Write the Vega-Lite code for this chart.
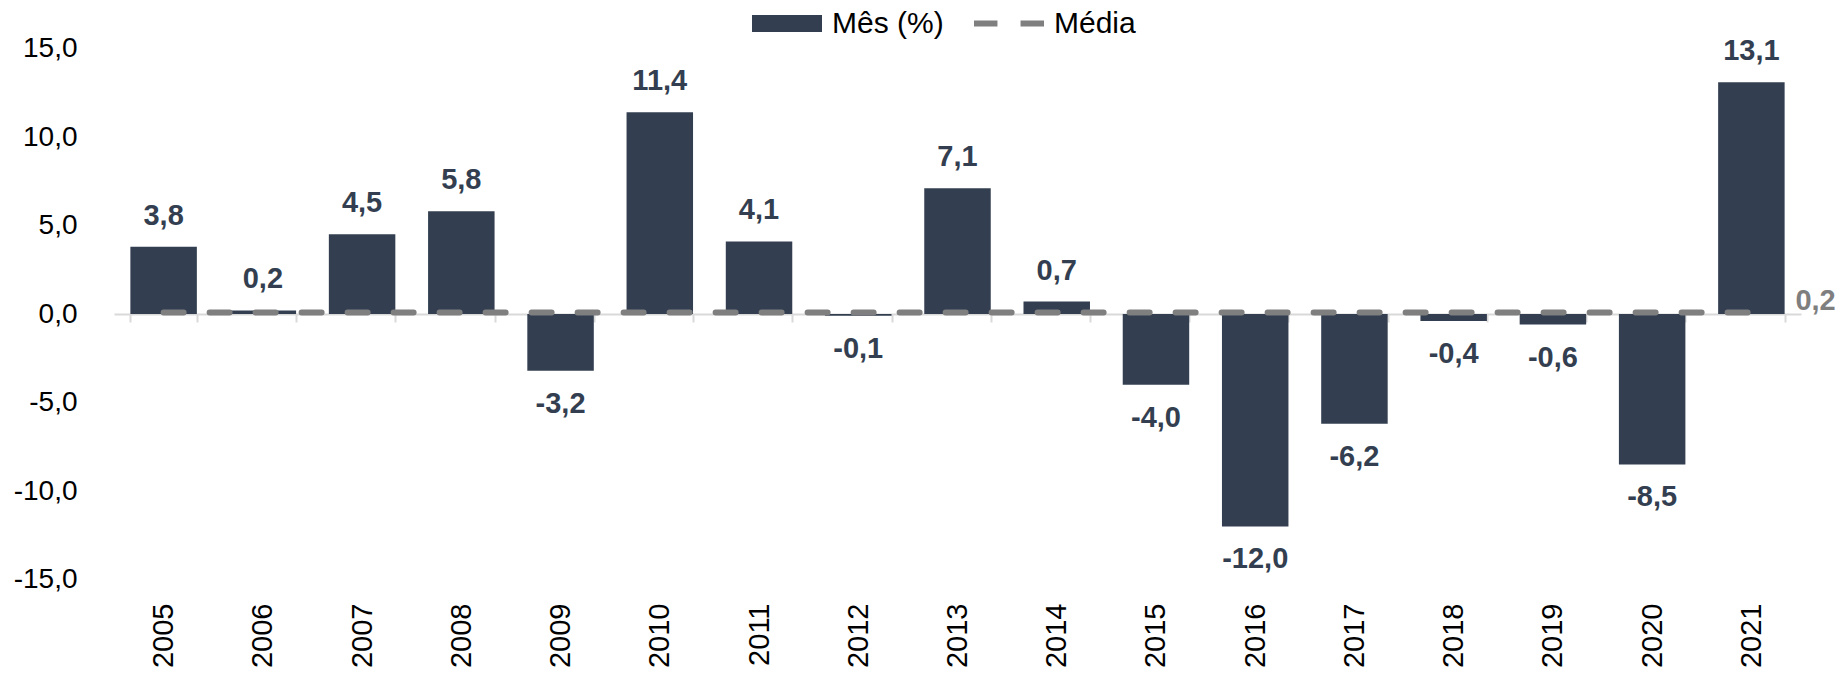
{
  "$schema": "https://vega.github.io/schema/vega-lite/v6.json",
  "autosize": "none",
  "width": 1687,
  "height": 531,
  "padding": {"left": 114, "top": 48.5, "right": 46, "bottom": 94.5},
  "background": "white",
  "config": {
    "view": {"stroke": null},
    "font": "Liberation Sans",
    "locale": {"number": {"decimal": ",", "thousands": ".", "grouping": [3], "currency": ["R$", ""], "minus": "-"}}
  },
  "data": {
    "values": [
      {"ano": "2005", "valor": 3.8, "media": 0.2},
      {"ano": "2006", "valor": 0.2, "media": 0.2},
      {"ano": "2007", "valor": 4.5, "media": 0.2},
      {"ano": "2008", "valor": 5.8, "media": 0.2},
      {"ano": "2009", "valor": -3.2, "media": 0.2},
      {"ano": "2010", "valor": 11.4, "media": 0.2},
      {"ano": "2011", "valor": 4.1, "media": 0.2},
      {"ano": "2012", "valor": -0.1, "media": 0.2},
      {"ano": "2013", "valor": 7.1, "media": 0.2},
      {"ano": "2014", "valor": 0.7, "media": 0.2},
      {"ano": "2015", "valor": -4.0, "media": 0.2},
      {"ano": "2016", "valor": -12.0, "media": 0.2},
      {"ano": "2017", "valor": -6.2, "media": 0.2},
      {"ano": "2018", "valor": -0.4, "media": 0.2},
      {"ano": "2019", "valor": -0.6, "media": 0.2},
      {"ano": "2020", "valor": -8.5, "media": 0.2},
      {"ano": "2021", "valor": 13.1, "media": 0.2}
    ]
  },
  "layer": [
    {
      "mark": {"type": "bar", "color": "#333F50"},
      "encoding": {
        "x": {
          "field": "ano", "type": "nominal", "sort": null,
          "scale": {"paddingInner": 0.33, "paddingOuter": 0.165},
          "axis": {"title": null, "offset": -265.5, "domain": true, "domainColor": "#D9D9D9", "domainWidth": 2, "ticks": true, "tickColor": "#D9D9D9", "tickWidth": 2, "tickSize": 8, "tickBand": "extent", "labelAngle": -90, "labelFontSize": 29, "labelColor": "#000000", "labelPadding": 281}
        },
        "y": {
          "field": "valor", "type": "quantitative",
          "scale": {"domain": [-15, 15], "nice": false, "zero": false},
          "axis": {"title": null, "domain": false, "ticks": false, "grid": false, "values": [-15, -10, -5, 0, 5, 10, 15], "format": ".1f", "labelFontSize": 28, "labelColor": "#000000", "labelPadding": 37}
        },
        "color": {
          "datum": "Mês (%)",
          "scale": {"domain": ["Mês (%)", "Média"], "range": ["#333F50", "#7F7F7F"]},
          "legend": {
            "title": null, "orient": "none", "direction": "horizontal",
            "legendX": 638, "legendY": -60, "padding": 0,
            "symbolSize": 4900, "symbolStrokeWidth": 0,
            "labelFontSize": 30, "labelColor": "#000000", "labelOffset": 10, "columnPadding": 30,
            "encode": {
              "symbols": {
                "update": {
                  "shape": {"signal": "datum.value === 'Média' ? 'M-1,-0.083H-0.33V0.083H-1Z M0.33,-0.083H1V0.083H0.33Z' : 'M-1,-0.243H1V0.243H-1Z'"},
                  "fill": {"signal": "datum.value === 'Média' ? '#7F7F7F' : '#333F50'"},
                  "stroke": {"value": "transparent"},
                  "opacity": {"value": 1}
                }
              }
            }
          }
        }
      }
    },
    {
      "mark": {"type": "line", "strokeWidth": 6, "strokeDash": [20, 26], "strokeCap": "round", "yOffset": 2},
      "encoding": {
        "x": {"field": "ano", "type": "nominal", "sort": null},
        "y": {"field": "media", "type": "quantitative"},
        "color": {"datum": "Média"}
      }
    },
    {
      "transform": [{"filter": "datum.valor >= 0"}],
      "mark": {"type": "text", "fontSize": 29, "fontWeight": "bold", "color": "#333F50", "baseline": "middle", "dy": -31},
      "encoding": {
        "x": {"field": "ano", "type": "nominal", "sort": null},
        "y": {"field": "valor", "type": "quantitative"},
        "text": {"field": "valor", "type": "quantitative", "format": ".1f"}
      }
    },
    {
      "transform": [{"filter": "datum.valor < 0"}],
      "mark": {"type": "text", "fontSize": 29, "fontWeight": "bold", "color": "#333F50", "baseline": "middle", "dy": 33},
      "encoding": {
        "x": {"field": "ano", "type": "nominal", "sort": null},
        "y": {"field": "valor", "type": "quantitative"},
        "text": {"field": "valor", "type": "quantitative", "format": ".1f"}
      }
    },
    {
      "transform": [{"filter": "datum.ano === '2021'"}],
      "mark": {"type": "text", "fontSize": 29, "fontWeight": "bold", "color": "#7F7F7F", "baseline": "middle", "align": "left", "dx": 44, "dy": -9},
      "encoding": {
        "x": {"field": "ano", "type": "nominal", "sort": null},
        "y": {"field": "media", "type": "quantitative"},
        "text": {"field": "media", "type": "quantitative", "format": ".1f"}
      }
    }
  ]
}
